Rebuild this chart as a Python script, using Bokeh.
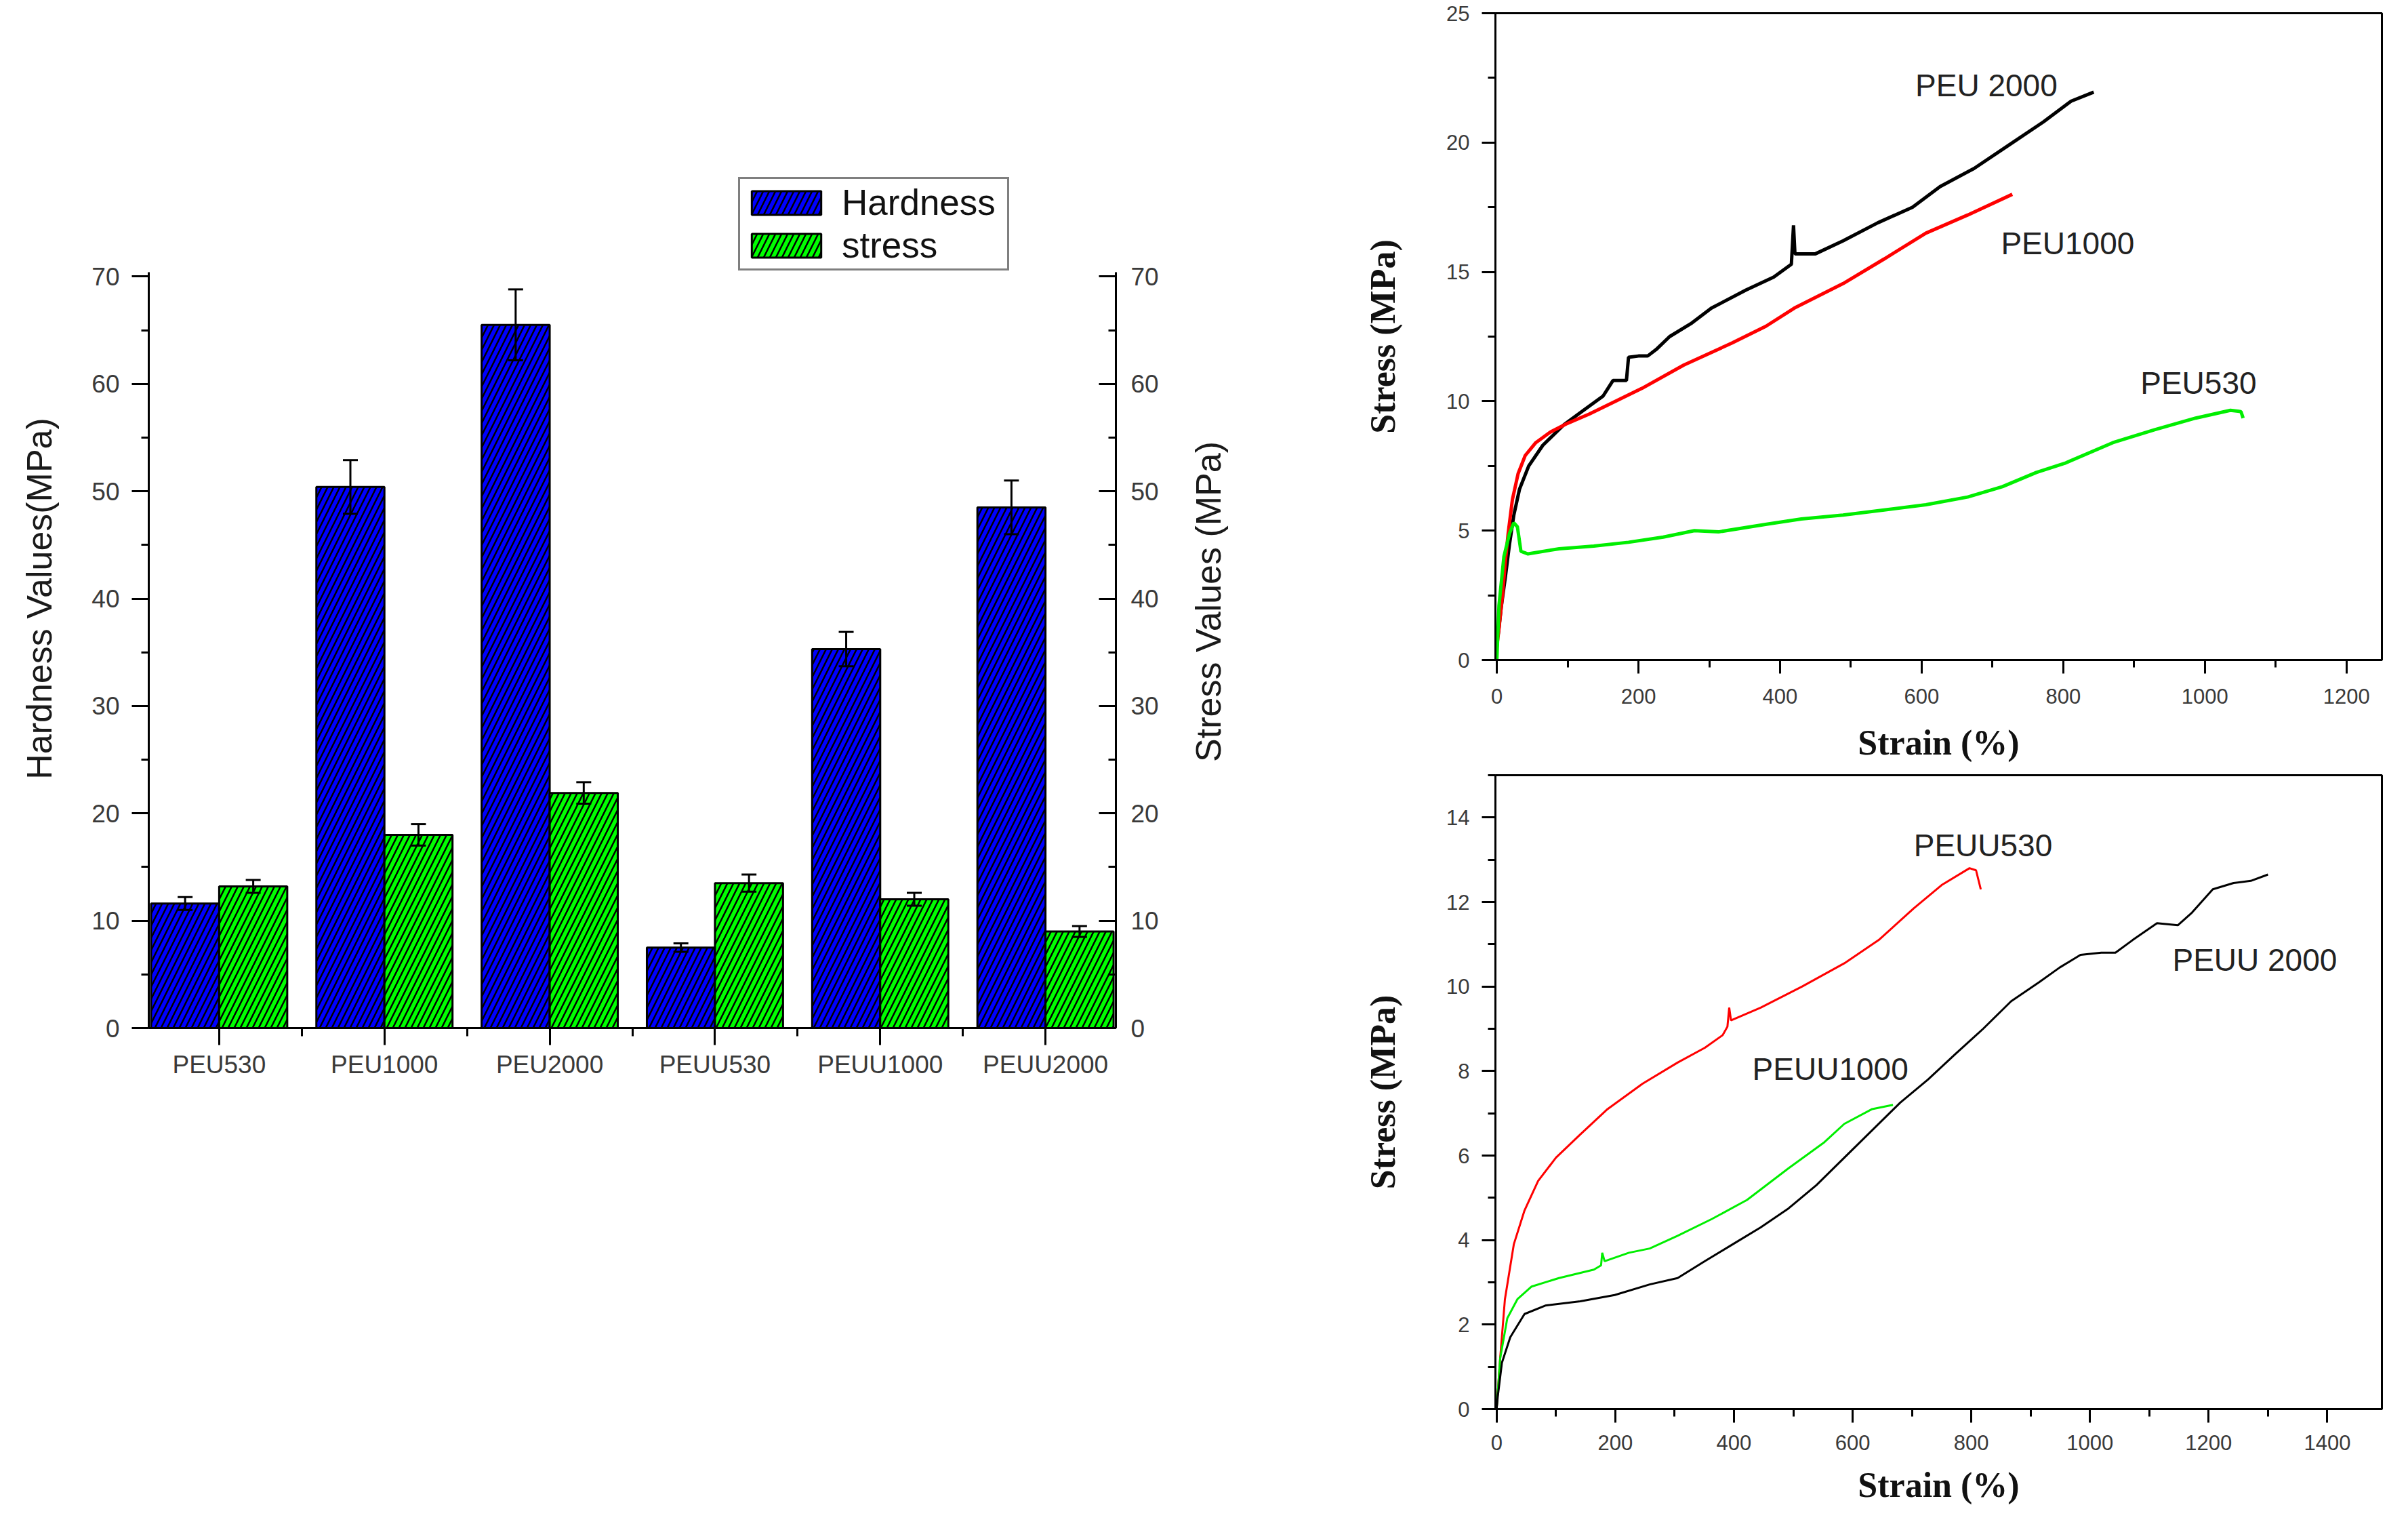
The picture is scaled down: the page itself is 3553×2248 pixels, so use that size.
from math import pi
from bokeh.plotting import figure
from bokeh.models import (ColumnDataSource, Range1d, LinearAxis, FixedTicker,
                          SingleIntervalTicker, Whisker, TeeHead, Legend,
                          LegendItem, Label)
from bokeh.layouts import row, column
from bokeh.transform import dodge
from bokeh.embed import file_html
from bokeh.resources import INLINE

# --- bar chart data ---
samples = ["PEU530", "PEU1000", "PEU2000", "PEUU530", "PEUU1000", "PEUU2000"]
hardness = [11.6, 50.4, 65.5, 7.5, 35.3, 48.5]
hardness_err = [0.6, 2.5, 3.3, 0.4, 1.6, 2.5]
stress = [13.2, 18.0, 21.9, 13.5, 12.0, 9.0]
stress_err = [0.6, 1.0, 1.0, 0.8, 0.6, 0.5]

# --- stress-strain curves, PEU series (strain %, stress MPa) ---
peu2000_x = [2, 6, 12, 18, 24, 32, 45, 65, 95, 125, 150, 164, 183, 186, 200, 213,
             225, 244, 274, 303, 352, 391, 416, 419, 421, 423, 450, 489, 538, 587,
             626, 674, 723, 772, 811, 843]
peu2000_y = [1.0, 2.0, 3.2, 4.5, 5.6, 6.6, 7.5, 8.3, 9.1, 9.7, 10.2, 10.8, 10.8,
             11.7, 11.75, 11.75, 12.0, 12.5, 13.0, 13.6, 14.3, 14.8, 15.3, 16.8,
             15.7, 15.7, 15.7, 16.2, 16.9, 17.5, 18.3, 19.0, 19.9, 20.8, 21.6, 21.95]
peu1000_x = [0, 3, 8, 12, 16, 22, 30, 40, 55, 75, 100, 130, 160, 205, 264, 332,
             380, 420, 489, 547, 606, 665, 728]
peu1000_y = [0.5, 1.2, 2.5, 3.8, 4.9, 6.2, 7.2, 7.9, 8.4, 8.8, 9.15, 9.5, 9.9,
             10.5, 11.4, 12.25, 12.9, 13.6, 14.55, 15.5, 16.5, 17.2, 18.0]
peu530_x = [0, 3, 10, 18, 24, 29, 34, 44, 88, 137, 186, 235, 279, 313, 381, 430,
            489, 547, 606, 665, 714, 762, 802, 870, 929, 987, 1036, 1051, 1054]
peu530_y = [0.0, 2.1, 4.0, 4.9, 5.3, 5.15, 4.2, 4.1, 4.3, 4.4, 4.55, 4.75, 5.0,
            4.95, 5.25, 5.45, 5.6, 5.8, 6.0, 6.3, 6.7, 7.25, 7.6, 8.4, 8.9, 9.35,
            9.65, 9.6, 9.35]

# --- stress-strain curves, PEUU series ---
peuu530_x = [0, 6, 14, 29, 47, 70, 100, 141, 187, 246, 305, 351, 381, 389, 392,
             395, 445, 515, 586, 644, 703, 750, 797, 808, 816]
peuu530_y = [0.0, 1.2, 2.6, 3.9, 4.7, 5.4, 5.95, 6.5, 7.1, 7.7, 8.2, 8.55, 8.85,
             9.05, 9.5, 9.2, 9.5, 10.0, 10.55, 11.1, 11.85, 12.4, 12.8, 12.75, 12.3]
peuu1000_x = [0, 6, 18, 35, 59, 105, 164, 176, 178, 182, 223, 258, 305, 363, 422,
              492, 551, 586, 633, 668]
peuu1000_y = [0.0, 1.2, 2.15, 2.6, 2.9, 3.1, 3.3, 3.4, 3.7, 3.5, 3.7, 3.8, 4.1,
              4.5, 4.95, 5.7, 6.3, 6.75, 7.1, 7.2]
peuu2000_x = [0, 2, 9, 23, 47, 82, 141, 199, 258, 305, 351, 398, 445, 492, 539,
              586, 633, 680, 727, 773, 820, 867, 914, 949, 984, 1019, 1043, 1072,
              1113, 1148, 1172, 1207, 1242, 1271, 1300]
peuu2000_y = [0.0, 0.3, 1.1, 1.7, 2.25, 2.45, 2.55, 2.7, 2.95, 3.1, 3.5, 3.9, 4.3,
              4.75, 5.3, 5.95, 6.6, 7.25, 7.8, 8.4, 9.0, 9.65, 10.1, 10.45, 10.75,
              10.8, 10.8, 11.1, 11.5, 11.45, 11.75, 12.3, 12.45, 12.5, 12.65]

SANS = "Liberation Sans"
SERIF = "Liberation Serif"
TICK_COLOR = "#3a3a3a"

# ================= bar chart =================
BW = 0.412
pos = list(range(1, len(samples) + 1))
src = ColumnDataSource(dict(
    x=pos, h=hardness, s=stress,
    h_lo=[v - e for v, e in zip(hardness, hardness_err)],
    h_hi=[v + e for v, e in zip(hardness, hardness_err)],
    s_lo=[v - e for v, e in zip(stress, stress_err)],
    s_hi=[v + e for v, e in zip(stress, stress_err)],
))

# frame reaches above 70 so the legend can sit inside it; the axes stop at 70.4
p = figure(width=1732, height=2232, title=None,
           x_range=Range1d(1 - 0.426, len(samples) + 0.426), y_range=Range1d(0, 80),
           output_backend="svg", toolbar_location=None,
           min_border_left=219, min_border_right=86,
           min_border_top=249, min_border_bottom=716)
p.extra_y_ranges = {"stress": Range1d(0, 80)}
p.grid.visible = False
p.outline_line_color = None

hatch = dict(line_color="black", line_width=3, hatch_pattern="/", hatch_color="black",
             hatch_scale=18, hatch_weight=2.5)
hb = p.vbar(x=dodge('x', -BW / 2), top='h', width=BW, source=src,
            fill_color="#0000ff", **hatch)
sb = p.vbar(x=dodge('x', BW / 2), top='s', width=BW, source=src, y_range_name="stress",
            fill_color="#00ff00", **hatch)

for col, lo, hi, rng in [(-BW / 2, 'h_lo', 'h_hi', "default"), (BW / 2, 's_lo', 's_hi', "stress")]:
    w = Whisker(base=dodge('x', col), lower=lo, upper=hi, source=src, level="overlay",
                line_color="black", line_width=3, y_range_name=rng,
                upper_head=TeeHead(size=22, line_width=3, line_color="black"),
                lower_head=TeeHead(size=22, line_width=3, line_color="black"))
    p.add_layout(w)

xa = p.xaxis[0]
xa.ticker = FixedTicker(ticks=pos, minor_ticks=[x + 0.5 for x in pos[:-1]])
xa.major_label_overrides = {x: name for x, name in zip(pos, samples)}
ya = p.yaxis[0]
ya.ticker = SingleIntervalTicker(interval=10, num_minor_ticks=2)
ya.axis_label = "Hardness Values(MPa)"

ra = LinearAxis(y_range_name="stress", ticker=SingleIntervalTicker(interval=10, num_minor_ticks=2))
p.add_layout(ra, "right")

for ax in (xa, ya, ra):
    ax.axis_line_width = 3
    ax.major_tick_line_width = 3
    ax.minor_tick_line_width = 3
    ax.major_label_text_font = SANS
    ax.major_label_text_font_size = "37px"
    ax.major_label_text_color = TICK_COLOR
    ax.major_tick_in = 0
    ax.minor_tick_in = 0
    ax.axis_label_text_font = SANS
    ax.axis_label_text_font_style = "normal"
    ax.axis_label_text_font_size = "52px"
    ax.axis_label_text_color = "#1a1a1a"
for ax in (ya, ra):
    ax.bounds = (0, 70.4)
xa.major_tick_out = 25
xa.minor_tick_out = 12
xa.major_label_standoff = 8
ya.major_tick_out = 25
ya.minor_tick_out = 11
ya.major_label_standoff = 18
ya.axis_label_standoff = 45
ra.major_tick_out = 0
ra.minor_tick_out = 0
ra.major_tick_in = 25
ra.minor_tick_in = 11
ra.major_label_standoff = 22

legend = Legend(items=[LegendItem(label="Hardness", renderers=[hb]),
                       LegendItem(label="stress", renderers=[sb])],
                location=(870, 1117), glyph_width=128, glyph_height=44, label_height=44,
                label_width=240, label_standoff=18, spacing=2, padding=4, margin=0,
                label_text_font=SANS, label_text_font_size="53px", label_text_color="#111111",
                border_line_color="black", border_line_width=3, background_fill_alpha=1)
p.add_layout(legend)

# title of the right-hand axis, read from bottom to top, in a narrow strip of its own
# (the row lines this strip's frame up with the bar chart's frame)
rlab = figure(width=210, height=2232, x_range=Range1d(0, 1), y_range=Range1d(0, 1),
              x_axis_type=None, y_axis_type=None, title=None,
              output_backend="svg", toolbar_location=None,
              min_border_left=0, min_border_right=0, min_border_top=0, min_border_bottom=0)
rlab.grid.visible = False
rlab.outline_line_color = None
rlab.add_layout(Label(x=50, y=629, x_units="screen", y_units="screen", angle=pi / 2,
                      text="Stress Values (MPa)", text_align="center", text_baseline="middle",
                      text_font=SANS, text_font_size="52px", text_color="#1a1a1a"))


# ================= stress-strain charts =================
def curve_fig(height, x_end, y_end, y_int, top, bottom, lab_off, title_off):
    f = figure(width=1595, height=height, title=None,
               x_range=Range1d(-2, x_end), y_range=Range1d(0, y_end),
               output_backend="svg", toolbar_location=None,
               min_border_left=264, min_border_right=23,
               min_border_top=top, min_border_bottom=bottom)
    f.grid.visible = False
    f.outline_line_color = "black"
    f.outline_line_width = 3
    f.xaxis.ticker = SingleIntervalTicker(interval=200, num_minor_ticks=2)
    f.yaxis.ticker = SingleIntervalTicker(interval=y_int, num_minor_ticks=2)
    f.xaxis.axis_label = "Strain (%)"
    f.yaxis.axis_label = "Stress (MPa)"
    for ax in (f.xaxis[0], f.yaxis[0]):
        ax.axis_line_width = 3
        ax.major_tick_line_width = 3
        ax.minor_tick_line_width = 3
        ax.major_tick_in = 0
        ax.minor_tick_in = 0
        ax.major_tick_out = 20
        ax.minor_tick_out = 11
        ax.major_label_text_font = SANS
        ax.major_label_text_font_size = "31px"
        ax.major_label_text_color = TICK_COLOR
        ax.axis_label_text_font = SERIF
        ax.axis_label_text_font_style = "bold"
        ax.axis_label_text_font_size = "52px"
        ax.axis_label_text_color = "#111111"
    f.xaxis.major_label_standoff = lab_off
    f.xaxis.axis_label_standoff = title_off
    f.yaxis.major_label_standoff = 18
    f.yaxis.axis_label_standoff = 62
    return f


def curve_label(f, x, y, text):
    f.add_layout(Label(x=x, y=y, text=text, text_align="left", text_baseline="middle",
                       text_font=SANS, text_font_size="46px", text_color="#222222"))


top = curve_fig(1137, 1250, 25, 5, 19, 164, 22, 26)
top.line(peu2000_x, peu2000_y, line_color="black", line_width=5)
top.line(peu1000_x, peu1000_y, line_color="#ff0000", line_width=5)
top.line(peu530_x, peu530_y, line_color="#00ee00", line_width=5)
curve_label(top, 591, 22.2, "PEU 2000")
curve_label(top, 712, 16.1, "PEU1000")
curve_label(top, 909, 10.7, "PEU530")

bot = curve_fig(1095, 1492, 15, 2, 6, 154, 18, 20)
bot.line(peuu530_x, peuu530_y, line_color="#ff0000", line_width=3)
bot.line(peuu1000_x, peuu1000_y, line_color="#00ee00", line_width=3)
bot.line(peuu2000_x, peuu2000_y, line_color="black", line_width=3)
curve_label(bot, 703, 13.34, "PEUU530")
curve_label(bot, 1139, 10.63, "PEUU 2000")
curve_label(bot, 431, 8.05, "PEUU1000")

layout = row(p, rlab, column(top, bot))
open("out.html", "w").write(file_html(layout, INLINE))
